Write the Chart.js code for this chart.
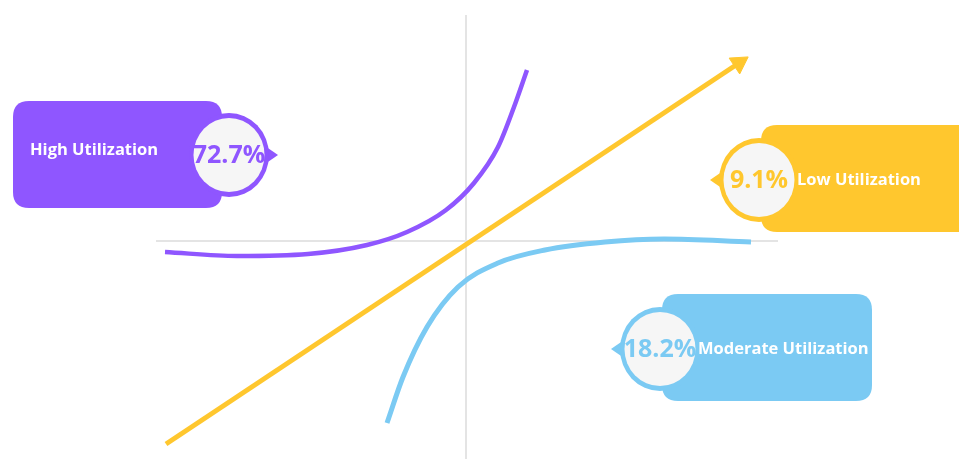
<!DOCTYPE html>
<html>
<head>
<meta charset="utf-8">
<script src="https://cdn.jsdelivr.net/npm/chart.js@4.4.0/dist/chart.umd.min.js"></script>
<style>
  html, body { margin: 0; padding: 0; background: #ffffff; }
  #wrap { width: 959px; height: 459px; }
</style>
</head>
<body>
<div id="wrap"><canvas id="chart_util" width="959" height="459"></canvas></div>
<script>
// shares per utilization group
const categories = ["High Utilization", "Moderate Utilization", "Low Utilization"];
const shares = [72.7, 18.2, 9.1];
const shareColors = ["#8f56ff", "#7bcaf3", "#ffc72e"];

// curve shapes (1 unit = 100px, origin at the crosshair)
const highX = [-3.01, -2.29, -1.58, -0.99, -0.59, -0.2, 0.08, 0.32, 0.48, 0.61];
const highY = [-0.11, -0.15, -0.13, -0.04, 0.09, 0.31, 0.58, 0.94, 1.34, 1.71];
const modX = [-0.79, -0.63, -0.39, -0.08, 0.32, 0.79, 1.39, 1.98, 2.85];
const modY = [-1.82, -1.36, -0.86, -0.46, -0.22, -0.09, -0.01, 0.02, -0.01];
const trendX = [-3.0, 2.73];
const trendY = [-2.03, 1.78];
const axisV = [[0, 2.26], [0, -2.18]];
const axisH = [[-3.1, 0], [3.12, 0]];

function pts(xs, ys) {
  return xs.map((x, i) => ({ x: x, y: ys[i] }));
}

// where each callout sits (circle centre, data units) and which side its box goes
const calloutLayout = [
  { cx: -2.37, cy: 0.86, side: "left", boxW: 216 },
  { cx: 1.94, cy: -1.08, side: "right", boxW: 210 },
  { cx: 2.93, cy: 0.61, side: "right", boxW: 240 },
];

function roundRect(ctx, x, y, w, h, r) {
  ctx.beginPath();
  ctx.moveTo(x + r, y);
  ctx.lineTo(x + w - r, y);
  ctx.quadraticCurveTo(x + w, y, x + w, y + r);
  ctx.lineTo(x + w, y + h - r);
  ctx.quadraticCurveTo(x + w, y + h, x + w - r, y + h);
  ctx.lineTo(x + r, y + h);
  ctx.quadraticCurveTo(x, y + h, x, y + h - r);
  ctx.lineTo(x, y + r);
  ctx.quadraticCurveTo(x, y, x + r, y);
  ctx.closePath();
}

const calloutPlugin = {
  id: "callouts",
  afterDatasetsDraw(chart) {
    const ctx = chart.ctx;
    const xs = chart.scales.x;
    const ys = chart.scales.y;
    calloutLayout.forEach((c, i) => {
      const px = xs.getPixelForValue(c.cx);
      const py = ys.getPixelForValue(c.cy);
      const col = shareColors[i];
      ctx.save();
      ctx.fillStyle = col;
      // box
      if (c.side === "left") {
        roundRect(ctx, px - c.boxW, py - 54, c.boxW - 7, 107, 16);
      } else {
        roundRect(ctx, px + 2, py - 55, c.boxW, 107, 16);
      }
      ctx.fill();
      // pointer
      ctx.beginPath();
      const dir = c.side === "left" ? 1 : -1;
      ctx.moveTo(px + dir * 36, py - 9);
      ctx.lineTo(px + dir * 49, py);
      ctx.lineTo(px + dir * 36, py + 9);
      ctx.closePath();
      ctx.fill();
      // ring
      ctx.beginPath();
      ctx.ellipse(px, py, 40, 42, 0, 0, Math.PI * 2);
      ctx.fill();
      ctx.fillStyle = "#f6f6f6";
      ctx.beginPath();
      ctx.ellipse(px, py, 35.5, 37, 0, 0, Math.PI * 2);
      ctx.fill();
      // percent
      ctx.fillStyle = col;
      ctx.font = "bold 25px 'Open Sans'";
      ctx.textAlign = "center";
      ctx.textBaseline = "middle";
      ctx.fillText(shares[i] + "%", px, py + 1);
      // label
      ctx.fillStyle = "#ffffff";
      ctx.font = "bold 16.5px 'Open Sans'";
      ctx.textAlign = "left";
      if (c.side === "left") {
        ctx.fillText(categories[i], px - 199, py - 5);
      } else {
        ctx.fillText(categories[i], px + 38, py);
      }
      ctx.restore();
    });
  },
};

const ctxU = document.getElementById("chart_util").getContext("2d");

const utilChart = new Chart(ctxU, {
  type: "scatter",
  data: {
    datasets: [
      {
        label: "trend",
        data: pts(trendX, trendY),
        showLine: true,
        borderColor: "#ffc72e",
        backgroundColor: "#ffc72e",
        borderWidth: 5,
        pointRadius: [0, 11],
        pointStyle: "triangle",
        rotation: 56.4,
        pointBorderWidth: 1,
        order: 1,
      },
      {
        label: categories[0],
        data: pts(highX, highY),
        showLine: true,
        borderColor: shareColors[0],
        borderWidth: 4.5,
        pointRadius: 0,
        cubicInterpolationMode: "monotone",
        order: 2,
      },
      {
        label: categories[1],
        data: pts(modX, modY),
        showLine: true,
        borderColor: shareColors[1],
        borderWidth: 5,
        pointRadius: 0,
        cubicInterpolationMode: "monotone",
        order: 3,
      },
      {
        label: "v",
        data: axisV.map((p) => ({ x: p[0], y: p[1] })),
        showLine: true,
        borderColor: "#e4e4e4",
        borderWidth: 2,
        pointRadius: 0,
        order: 4,
      },
      {
        label: "h",
        data: axisH.map((p) => ({ x: p[0], y: p[1] })),
        showLine: true,
        borderColor: "#e4e4e4",
        borderWidth: 2,
        pointRadius: 0,
        order: 5,
      },
    ],
  },
  options: {
    responsive: false,
    animation: false,
    clip: false,
    layout: { padding: 0, autoPadding: false },
    plugins: {
      legend: { display: false },
      tooltip: { enabled: false },
    },
    scales: {
      x: { type: "linear", display: false, min: -4.66, max: 4.93 },
      y: { type: "linear", display: false, min: -2.18, max: 2.41 },
    },
  },
  plugins: [calloutPlugin],
});
</script>
</body>
</html>
